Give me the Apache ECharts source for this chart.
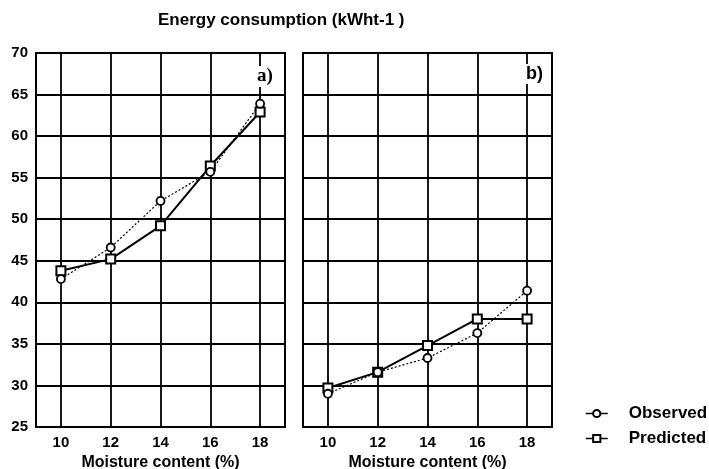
<!DOCTYPE html>
<html>
<head>
<meta charset="utf-8">
<script src="https://cdn.jsdelivr.net/npm/echarts@6/dist/echarts.min.js"></script>
<style>
  html, body { margin: 0; padding: 0; background: #fff; }
  #main { width: 709px; height: 469px; }
</style>
</head>
<body>
<div id="main"></div>
<script>
// moisture content (%)
var moisture = [10, 12, 14, 16, 18];
// panel a)
var observedA = [42.8, 46.6, 52.2, 55.7, 63.9];
var predictedA = [43.8, 45.2, 49.2, 56.4, 62.9];
// panel b)
var observedB = [29.0, 31.6, 33.3, 36.3, 41.4];
var predictedB = [29.7, 31.6, 34.8, 38.0, 38.0];

function pairs(xs, ys) {
    return xs.map(function (x, i) { return [x, ys[i]]; });
}

var font = 'Liberation Sans, Arial, sans-serif';

function xAxis(idx) {
    return {
        type: 'value', gridIndex: idx, min: 9, max: 19, interval: 1,
        name: 'Moisture content (%)', nameLocation: 'middle', nameGap: 27,
        nameTextStyle: { color: '#000', fontSize: 16, fontWeight: 'bold', fontFamily: font },
        axisLine: { show: false },
        axisTick: { show: false },
        axisLabel: {
            color: '#000', fontSize: 15, fontWeight: 'bold', fontFamily: font, margin: 8,
            formatter: function (v) { return v % 2 === 0 ? String(v) : ''; }
        },
        // only the even values get a visible line
        splitLine: { lineStyle: { color: ['rgba(0,0,0,0)', '#000'], width: 1.8 } }
    };
}

function yAxis(idx, labels) {
    return {
        type: 'value', gridIndex: idx, min: 25, max: 70, interval: 5,
        axisLine: { show: false },
        axisTick: { show: false },
        axisLabel: { show: labels, color: '#000', fontSize: 15, fontWeight: 'bold', fontFamily: font, margin: 8 },
        splitLine: { lineStyle: { color: '#000', width: 1.8 } }
    };
}

function obs(idx, data) {
    return {
        name: 'Observed', type: 'line', xAxisIndex: idx, yAxisIndex: idx,
        data: pairs(moisture, data), z: 4,
        symbol: 'circle', symbolSize: 8,
        lineStyle: { color: '#000', width: 1.2, type: [2, 2] },
        itemStyle: { color: '#fff', borderColor: '#000', borderWidth: 1.8 }
    };
}

function pred(idx, data) {
    return {
        name: 'Predicted', type: 'line', xAxisIndex: idx, yAxisIndex: idx,
        data: pairs(moisture, data), z: 3,
        symbol: 'rect', symbolSize: 9,
        lineStyle: { color: '#000', width: 2 },
        itemStyle: { color: '#fff', borderColor: '#000', borderWidth: 2 }
    };
}

var myChart = echarts.init(document.getElementById('main'));

var gridBase = {
    top: 53, width: 249, height: 374, show: true,
    borderColor: '#000', borderWidth: 2, backgroundColor: 'transparent',
    outerBoundsMode: 'none', containLabel: false
};

myChart.setOption({
    backgroundColor: '#fff',
    animation: false,
    title: {
        text: 'Energy consumption (kWht-1 )',
        left: 158, top: 12, padding: 0,
        textStyle: { color: '#000', fontSize: 17, fontWeight: 'bold', fontFamily: font }
    },
    legend: {
        orient: 'vertical', left: 585, top: 405, padding: 0,
        itemWidth: 22, itemHeight: 9, itemGap: 8,
        data: ['Observed', 'Predicted'],
        lineStyle: { type: 'solid', width: 1.5 },
        textStyle: { color: '#000', fontSize: 17, fontWeight: 'bold', fontFamily: font, padding: [0, 0, 0, 16] }
    },
    grid: [
        Object.assign({ left: 36 }, gridBase),
        Object.assign({ left: 303 }, gridBase)
    ],
    xAxis: [xAxis(0), xAxis(1)],
    yAxis: [yAxis(0, true), yAxis(1, false)],
    graphic: [
        {
            type: 'text', left: 256, top: 66, z: 10,
            style: { text: 'a)', fill: '#000', font: 'bold 19px Liberation Serif, serif', backgroundColor: '#fff', padding: [1, 1] }
        },
        {
            type: 'text', left: 525, top: 64, z: 10,
            style: { text: 'b)', fill: '#000', font: 'bold 18px Liberation Sans, Arial, sans-serif', backgroundColor: '#fff', padding: [1, 1] }
        }
    ],
    series: [obs(0, observedA), pred(0, predictedA), obs(1, observedB), pred(1, predictedB)]
});
</script>
</body>
</html>
